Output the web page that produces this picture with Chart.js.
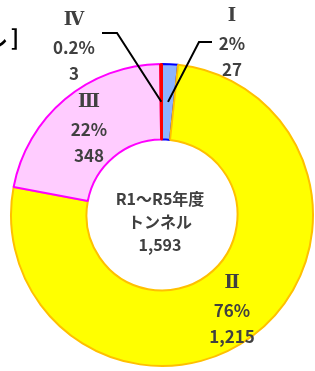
<!DOCTYPE html>
<html>
<head>
<meta charset="utf-8">
<script src="https://cdn.jsdelivr.net/npm/chart.js@4/dist/chart.umd.min.js"></script>
<style>
  html, body { margin: 0; padding: 0; background: #fff; }
  #wrap { width: 315px; height: 371px; position: relative; }
</style>
</head>
<body>
<div id="wrap"><canvas id="pieChart"></canvas></div>
<script>
// データ
const categories = ['Ⅰ', 'Ⅱ', 'Ⅲ', 'Ⅳ'];
const counts = [27, 1215, 348, 3];
const percents = ['2%', '76%', '22%', '0.2%'];
const countLabels = ['27', '1,215', '348', '3'];
const centerLines = ['R1～R5年度', 'トンネル', '1,593'];

const fillColors = ['#8cb4ff', '#ffff00', '#ffccff', '#ff0000'];
const borderColors = ['#0000ff', '#ffc000', '#ff00ff', '#ff0000'];

const font = "'Noto Sans CJK JP', 'Liberation Sans', sans-serif";
const numeralFont = "'DejaVu Serif', 'Liberation Serif', serif";
const textColor = '#404040';

// ラベル位置 (テキスト中心, 引出線の折れ点)
const labelPos = [
    { x: 232, y: 16, line: [[212, 42], [199, 42]] },
    { x: 232, y: 283, line: null },
    { x: 89, y: 102, line: null },
    { x: 74, y: 20, line: [[102, 33], [117, 33]] }
];

const labelPlugin = {
    id: 'labelPlugin',
    afterDraw(chart) {
        const ctx = chart.ctx;
        const arcs = chart.getDatasetMeta(0).data;
        ctx.save();

        // 引出線
        ctx.strokeStyle = '#000';
        ctx.lineWidth = 2;
        labelPos.forEach((p, i) => {
            if (!p.line) return;
            const mid = arcs[i].tooltipPosition();
            ctx.beginPath();
            ctx.moveTo(p.line[0][0], p.line[0][1]);
            ctx.lineTo(p.line[1][0], p.line[1][1]);
            ctx.lineTo(mid.x, mid.y);
            ctx.stroke();
        });

        // ラベル
        ctx.fillStyle = textColor;
        ctx.textAlign = 'center';
        ctx.textBaseline = 'middle';
        labelPos.forEach((p, i) => {
            ctx.font = 'bold 18px ' + numeralFont;
            ctx.fillText(categories[i], p.x, p.y);
            ctx.font = 'bold 17px ' + font;
            ctx.fillText(percents[i], p.x, p.y + 28);
            ctx.fillText(countLabels[i], p.x, p.y + 54);
        });

        // 中央テキスト
        const c = arcs[0];
        ctx.font = 'bold 16px ' + font;
        ctx.fillText(centerLines[0], c.x - 2, c.y - 16);
        ctx.fillText(centerLines[1], c.x - 2, c.y + 7);
        ctx.fillText(centerLines[2], c.x - 2, c.y + 30);

        // タイトル (切れている部分)
        ctx.fillStyle = '#000';
        ctx.textAlign = 'right';
        ctx.font = 'bold 22px ' + font;
        ctx.fillText('トンネル', 7, 39);
        ctx.fillText(']', 19, 38);

        ctx.restore();
    }
};

const ctx = document.getElementById('pieChart').getContext('2d');
new Chart(ctx, {
    type: 'doughnut',
    data: {
        labels: categories,
        datasets: [{
            data: counts,
            backgroundColor: fillColors,
            borderColor: borderColors,
            borderWidth: 2
        }]
    },
    options: {
        responsive: true,
        maintainAspectRatio: false,
        animation: false,
        cutout: '50%',
        layout: {
            padding: { left: 10, top: 63, right: 1, bottom: 4 }
        },
        plugins: {
            legend: { display: false },
            tooltip: { enabled: false }
        }
    },
    plugins: [labelPlugin]
});
</script>
</body>
</html>
